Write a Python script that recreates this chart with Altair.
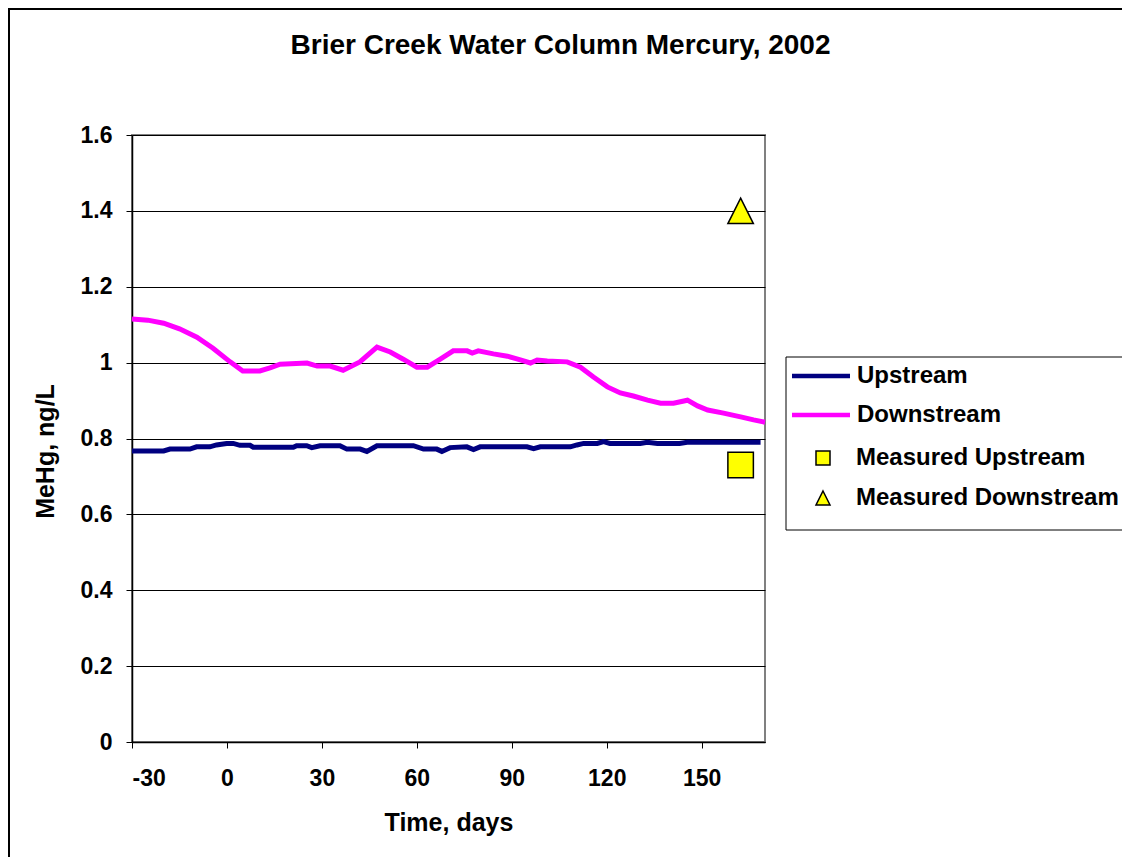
import altair as alt
import pandas as pd

# ---------------- data ----------------
up_day = [-30, -20, -18, -11.7, -9.6, -5.4, -3.3, -0.1, 2, 4.1, 7.3, 8.3, 21, 22, 25.2, 26.8,
          29.4, 35.7, 37.9, 42.1, 44.2, 47.4, 58.9, 62.1, 66.3, 67.9, 70.5, 75.8, 77.9, 80,
          94.8, 96.9, 99, 108.5, 110.6, 112.7, 117, 119, 121, 130.6, 132.8, 136, 143, 145.4, 168.6]
up_val = [0.767, 0.767, 0.772, 0.772, 0.778, 0.778, 0.783, 0.787, 0.787, 0.782, 0.782, 0.777,
          0.777, 0.781, 0.781, 0.776, 0.781, 0.781, 0.772, 0.772, 0.766, 0.781, 0.781, 0.772,
          0.772, 0.766, 0.776, 0.778, 0.771, 0.778, 0.778, 0.773, 0.778, 0.778, 0.783, 0.787,
          0.787, 0.792, 0.787, 0.787, 0.790, 0.787, 0.787, 0.790, 0.790]

down_day = [-30, -25, -20, -15, -9.5, -4.4, 1, 5, 10.4, 13.6, 16.8, 25.3, 28.5, 32.6, 36.7, 42,
            47.4, 51.6, 55.7, 60, 63.3, 67.4, 71.5, 75.9, 77.5, 79.4, 84.2, 88.6, 92.7, 95.9,
            98, 101.2, 107.5, 111.7, 115.8, 120.2, 124.3, 128.4, 132.9, 137, 141.1, 145.5,
            148.7, 151.9, 156.9, 162.3, 166.4, 170]
down_val = [1.115, 1.112, 1.104, 1.089, 1.067, 1.038, 1.002, 0.978, 0.978, 0.986, 0.996, 0.999,
            0.991, 0.991, 0.980, 1.002, 1.041, 1.028, 1.009, 0.988, 0.988, 1.009, 1.031, 1.031,
            1.025, 1.031, 1.023, 1.017, 1.007, 0.999, 1.007, 1.004, 1.002, 0.988, 0.962, 0.936,
            0.920, 0.912, 0.901, 0.893, 0.893, 0.901, 0.886, 0.875, 0.867, 0.857, 0.849, 0.843]

meas_names = ["Measured Upstream", "Measured Downstream"]
meas_day = [162.3, 162.3]
meas_val = [0.73, 1.40]

line_names = ["Upstream", "Downstream"]
x_ticks = [-30, 0, 30, 60, 90, 120, 150]
y_ticks = [0, 0.2, 0.4, 0.6, 0.8, 1.0, 1.2, 1.4, 1.6]

title_text = "Brier Creek Water Column Mercury, 2002"
x_title = "Time, days"
y_title = "MeHg, ng/L"

# ---------------- tables ----------------
lines_df = pd.concat([
    pd.DataFrame({"day": up_day, "val": up_val, "Line": "Upstream", "ord": range(len(up_day))}),
    pd.DataFrame({"day": down_day, "val": down_val, "Line": "Downstream", "ord": range(len(down_day))}),
], ignore_index=True)
meas_df = pd.DataFrame({"day": meas_day, "val": meas_val, "Measured": meas_names})

FONT = "Liberation Sans"
TRI = "M0,-1L1,1L-1,1Z"

x_enc = alt.X("day:Q", scale=alt.Scale(domain=[-30, 170], nice=False, zero=False),
              axis=alt.Axis(values=x_ticks, labelExpr="toString(datum.value)", title=x_title,
                            grid=False, labelPadding=19, titlePadding=20))
y_enc = alt.Y("val:Q", scale=alt.Scale(domain=[0, 1.6], nice=False),
              axis=alt.Axis(values=y_ticks, format=".1~f", title=y_title, grid=True,
                            labelPadding=14, titleX=-87, titleY=316, titleAngle=270,
                            titleAlign="center", titleBaseline="middle"))

lines = alt.Chart(lines_df).mark_line(strokeWidth=5, interpolate="linear").encode(
    x=x_enc, y=y_enc,
    order="ord:Q",
    color=alt.Color("Line:N",
                    scale=alt.Scale(domain=line_names, range=["#000080", "#FF00FF"]),
                    legend=alt.Legend(title=None, orient="none", legendX=672, legendY=224,
                                      symbolType="M-2,0H2", symbolSize=841,
                                      symbolStrokeWidth=4.5, labelOffset=19,
                                      labelFont=FONT, labelFontSize=24, labelFontWeight="bold",
                                      labelColor="black", rowPadding=10, padding=0,
                                      labelLimit=400)),
)

points = alt.Chart(meas_df).mark_point(filled=True, fill="#FFFF00", stroke="black",
                                       strokeWidth=1.5, opacity=1, size=650).encode(
    x="day:Q", y="val:Q",
    shape=alt.Shape("Measured:N",
                    scale=alt.Scale(domain=meas_names, range=["square", TRI]),
                    legend=alt.Legend(title=None, orient="none", legendX=679, legendY=311,
                                      symbolSize=196, symbolStrokeWidth=1.5,
                                      labelOffset=21, labelFont=FONT, labelFontSize=24,
                                      labelFontWeight="bold", labelColor="black",
                                      rowPadding=16, padding=0, labelLimit=400)),
)

one = alt.Data(values=[{"k": 0}])
legend_box = alt.Chart(one).mark_rect(fillOpacity=0, stroke="black", strokeWidth=1).encode(
    x=alt.value(654), x2=alt.value(1100), y=alt.value(222), y2=alt.value(395))
frame_top = alt.Chart(one).mark_rule(color="black", strokeWidth=2).encode(
    x=alt.value(-124), x2=alt.value(1100), y=alt.value(-126))
frame_left = alt.Chart(one).mark_rule(color="black", strokeWidth=2).encode(
    x=alt.value(-123), y=alt.value(-126), y2=alt.value(900))

chart = alt.layer(legend_box, frame_top, frame_left, lines, points).properties(
    width=633, height=607,
    autosize=alt.AutoSizeParams(type="none"),
    padding={"left": 124, "top": 127, "right": 357, "bottom": 115},
    background="white",
    title=alt.TitleParams(text=title_text, font=FONT, fontSize=28, fontWeight="bold",
                          color="black", anchor="middle", frame="group", dx=112,
                          offset=0, dy=52),
).configure_view(
    stroke="#808080", strokeWidth=2
).configure_axis(
    labelFont=FONT, labelFontSize=23, labelFontWeight="bold", labelColor="black",
    titleFont=FONT, titleFontSize=25, titleFontWeight="bold", titleColor="black",
    domainColor="black", domainWidth=1.5, tickColor="black", tickSize=6, tickWidth=1,
    gridColor="black", gridWidth=1, gridOpacity=1,
)

chart.save("out.html", embed_options={"renderer": "svg", "actions": False})
